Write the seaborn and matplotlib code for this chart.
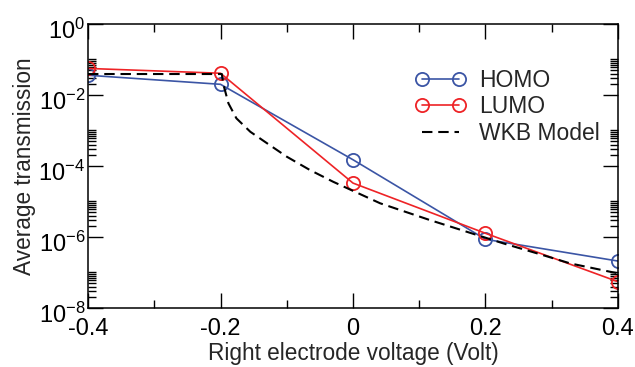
import numpy as np
import pandas as pd
import matplotlib
matplotlib.use("Agg")
import matplotlib.pyplot as plt
import matplotlib.ticker as mticker
import matplotlib.transforms as mtransforms
import seaborn as sns

# values
volt = [-0.4, -0.2, 0.0, 0.2, 0.4]
homo = [3.6e-2, 2.0e-2, 1.5e-4, 8.6e-7, 2.1e-7]
lumo = [5.6e-2, 4.1e-2, 3.3e-5, 1.27e-6, 5.5e-8]

wkb_x = [-0.4, -0.198, -0.196, -0.188, -0.176, -0.155, -0.130, -0.100, -0.065,
         -0.030, 0.041, 0.116, 0.187, 0.227, 0.277, 0.328, 0.388, 0.4]
wkb_y = [3.9e-2, 3.9e-2, 2.1e-2, 5.8e-3, 2.2e-3, 9.2e-4, 4.4e-4, 1.83e-4, 7.7e-5,
         3.6e-5, 8.9e-6, 3.0e-6, 1.14e-6, 6.6e-7, 3.5e-7, 1.8e-7, 1.05e-7, 9.5e-8]

xticks = [-0.4, -0.2, 0, 0.2, 0.4]
xticklabels = ["-0.4", "-0.2", "0", "0.2", "0.4"]
yticks = [1e-8, 1e-6, 1e-4, 1e-2, 1e0]
yticklabels = [r"$\mathregular{10^{-8}}$", r"$\mathregular{10^{-6}}$",
               r"$\mathregular{10^{-4}}$", r"$\mathregular{10^{-2}}$",
               r"$\mathregular{10^{0}}$"]

blue = "#3b55a5"
red = "#ee2326"

sns.set_style("ticks")
plt.rcParams['font.family'] = ['Liberation Sans', 'DejaVu Sans']
plt.rcParams['mathtext.fontset'] = 'custom'
plt.rcParams['mathtext.rm'] = 'Liberation Sans'

fig = plt.figure(figsize=(6.35, 3.67), dpi=100)
ax = fig.add_axes([0.1386, 0.1608, 0.9732 - 0.1386, 0.9346 - 0.1608])

df = pd.DataFrame({"volt": volt, "HOMO": homo, "LUMO": lumo})
mk = dict(marker="o", markersize=9.5, markerfacecolor="none", markeredgewidth=1.3)
sns.lineplot(data=df, x="volt", y="HOMO", ax=ax, color=blue, lw=1.2,
             markeredgecolor=blue, label="HOMO", **mk)
sns.lineplot(data=df, x="volt", y="LUMO", ax=ax, color=red, lw=1.2,
             markeredgecolor=red, label="LUMO", **mk)
wkb = pd.DataFrame({"x": wkb_x, "y": wkb_y})
sns.lineplot(data=wkb, x="x", y="y", ax=ax, color="black", lw=1.5,
             ls=(0, (5, 2.8)), label="WKB Model", sort=False)

ax.set_yscale("log")
ax.set_xlim(-0.4, 0.4)
ax.set_ylim(1e-8, 1e0)
ax.set_xticks(xticks)
ax.set_xticklabels(xticklabels)
ax.xaxis.set_minor_locator(mticker.MultipleLocator(0.1))
ax.yaxis.set_major_locator(mticker.FixedLocator(yticks))
ax.yaxis.set_major_formatter(mticker.FixedFormatter(yticklabels))
ax.yaxis.set_minor_locator(mticker.LogLocator(base=100, subs=np.arange(2, 11), numticks=20))
ax.yaxis.set_minor_formatter(mticker.NullFormatter())

ax.tick_params(which="both", direction="in", top=True, right=True, width=1.0, colors="black")
ax.tick_params(which="major", length=11, labelsize=17)
ax.tick_params(axis="x", which="major", pad=7.5)
ax.tick_params(axis="y", which="major", pad=2)
ax.tick_params(which="minor", length=5.8)
for s in ax.spines.values():
    s.set_linewidth(1.1)
    s.set_color("black")

# y labels sit a little below their ticks, as in the original
shift = mtransforms.ScaledTranslation(0, -5 / 100, fig.dpi_scale_trans)
for lab in ax.get_yticklabels():
    lab.set_transform(lab.get_transform() + shift)

ax.set_xlabel("Right electrode voltage (Volt)", fontsize=16.3, labelpad=1)
ax.set_ylabel("Average transmission", fontsize=16.3, labelpad=2)

ax.legend(loc="upper right", bbox_to_anchor=(1.005, 0.915), frameon=False, numpoints=2,
          fontsize=16.5, handlelength=2.2, handletextpad=0.6, labelspacing=0.15)

fig.savefig("out.png", dpi=100)
